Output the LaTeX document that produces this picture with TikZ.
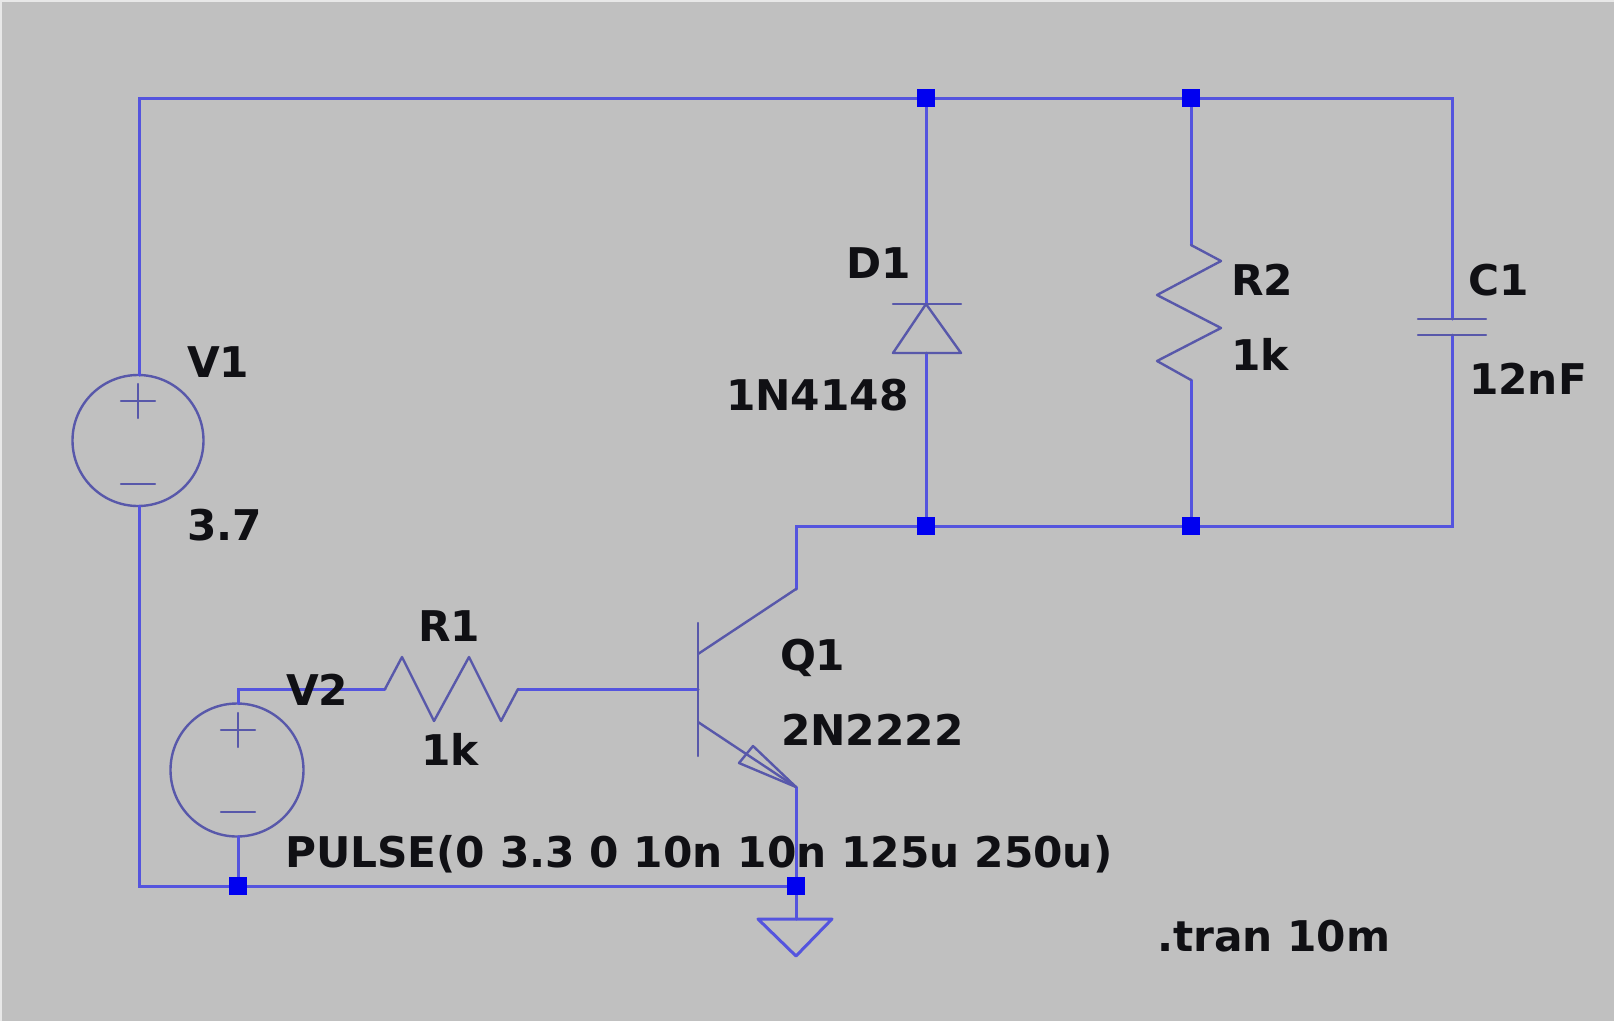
\documentclass[tikz,border=0pt]{standalone}
\usepackage{fontspec}
\setmainfont{DejaVu Sans}
\definecolor{bgcol}{RGB}{192,192,192}
\definecolor{edgecol}{RGB}{232,232,232}
\definecolor{wirecol}{RGB}{84,84,222}
\definecolor{partcol}{RGB}{88,88,170}
\definecolor{dotcol}{RGB}{0,0,240}
\definecolor{txtcol}{RGB}{16,16,20}
\tikzset{
  wire/.style={draw=wirecol,line width=3pt,line cap=round,line join=miter},
  part/.style={draw=partcol,line width=2.4pt,line cap=round,line join=round},
  junction/.style={fill=dotcol,draw=none,minimum size=18pt,inner sep=0pt,outer sep=0pt,rectangle},
  lbl/.style={anchor=base west,inner sep=0pt,outer sep=0pt,text=txtcol,font=\fontsize{42.3}{50}\selectfont\bfseries},
  source/.style={circle,draw=partcol,line width=2.4pt,inner sep=0pt,outer sep=0pt},
}
\begin{document}
\begin{tikzpicture}[x=1pt,y=-1pt]
\useasboundingbox (0,0) rectangle (1614,1021);
\fill[edgecol] (0,0) rectangle (1614,1021);
\fill[bgcol] (2,2) rectangle (1614,1021);
% terminals
\coordinate (tl) at (139,98);
\coordinate (tr) at (1452,98);
\coordinate (bl) at (139,886);
\coordinate (br) at (1452,526);
\coordinate (cc) at (796,526);
\coordinate (ct) at (796,589);
\coordinate (et) at (796,787);
\coordinate (v2c) at (238,689);
% sources
\node[source,minimum size=131pt] (V1) at (138,440.5) {};
\node[source,minimum size=133pt] (V2) at (237,770) {};
% component terminals
\coordinate (dA) at (926,304);
\coordinate (dK) at (926,353);
\coordinate (r2a) at (1191,245);
\coordinate (r2b) at (1191,380);
\coordinate (c1a) at (1452,319);
\coordinate (c1b) at (1452,335);
\coordinate (r1a) at (385,689);
\coordinate (r1b) at (518,689);
\coordinate (qb) at (698,689);
\coordinate (gnd) at (796,919);
% wires
\coordinate (jt1p) at (926,98);
\coordinate (jt2p) at (1191,98);
\coordinate (jb1p) at (926,526);
\coordinate (jb2p) at (1191,526);
\coordinate (jg1p) at (238,886);
\coordinate (jg2p) at (796,886);
\draw[wire] (V1.north -| tl) -- (tl) -- (tr) -- (c1a);
\draw[wire] (V1.south -| bl) -- (bl) -- (jg2p) -- (gnd);
\draw[wire] (ct) -- (cc) -- (br) -- (c1b);
\draw[wire] (jt1p) -- (dA);
\draw[wire] (dK) -- (jb1p);
\draw[wire] (jt2p) -- (r2a);
\draw[wire] (r2b) -- (jb2p);
\draw[wire] (V2.north -| v2c) -- (v2c) -- (r1a);
\draw[wire] (r1b) -- (qb);
\draw[wire] (et) -- (jg2p);
\draw[wire] (V2.south -| jg1p) -- (jg1p);
% V1 polarity
\draw[part] (121,401) -- (155,401) (138,384) -- (138,418);
\draw[part] (121,484) -- (155,484);
% V2 polarity
\draw[part] (221,730) -- (255,730) (238,713) -- (238,747);
\draw[part] (221,812) -- (255,812);
% D1
\draw[part] (893,304) -- (961,304);
\draw[part] (dA) -- (961,353) -- (893,353) -- cycle;
% R2
\draw[part] (r2a) -- (1221,261) -- (1157,295) -- (1221,328) -- (1157,361) -- (r2b);
% C1
\draw[part] (1418,319) -- (1486,319);
\draw[part] (1418,335) -- (1486,335);
% R1
\draw[part] (r1a) -- (402,657) -- (434,721) -- (469,657) -- (501,721) -- (r1b);
% Q1
\draw[part] (698,623) -- (698,756);
\draw[part] (698,654) -- (ct);
\draw[part] (698,722) -- (et);
\draw[part] (et) -- (753,746) -- (739,763) -- cycle;
% ground
\draw[wire,line join=round] (758,919) -- (832,919) -- (796,956) -- cycle;
% labels
\node[lbl] (tV1) at (187,377) {V1};
\node[lbl] (t37) at (187,540) {3.7};
\node[lbl] (tD1) at (846,278) {D1};
\node[lbl] (tD) at (726,410) {1N4148};
\node[lbl] (tR2) at (1231,295) {R2};
\node[lbl] (tR2v) at (1231,370) {1k};
\node[lbl] (tC1) at (1468,295) {C1};
\node[lbl] (tC1v) at (1469,394) {12nF};
\node[lbl] (tQ1) at (780,670) {Q1};
\node[lbl] (tQ) at (781,745) {2N2222};
\node[lbl] (tR1) at (418,641) {R1};
\node[lbl] (tR1v) at (421,765) {1k};
\node[lbl] (tV2) at (286,705) {V2};
\node[lbl] (tP) at (285,867) {PULSE(0 3.3 0 10n 10n 125u 250u)};
\node[lbl] (tT) at (1157,951) {.tran 10m};
% junctions on top
\node[junction] (jt1) at (jt1p) {};
\node[junction] (jt2) at (jt2p) {};
\node[junction] (jb1) at (jb1p) {};
\node[junction] (jb2) at (jb2p) {};
\node[junction] (jg1) at (jg1p) {};
\node[junction] (jg2) at (jg2p) {};
\end{tikzpicture}
\end{document}
